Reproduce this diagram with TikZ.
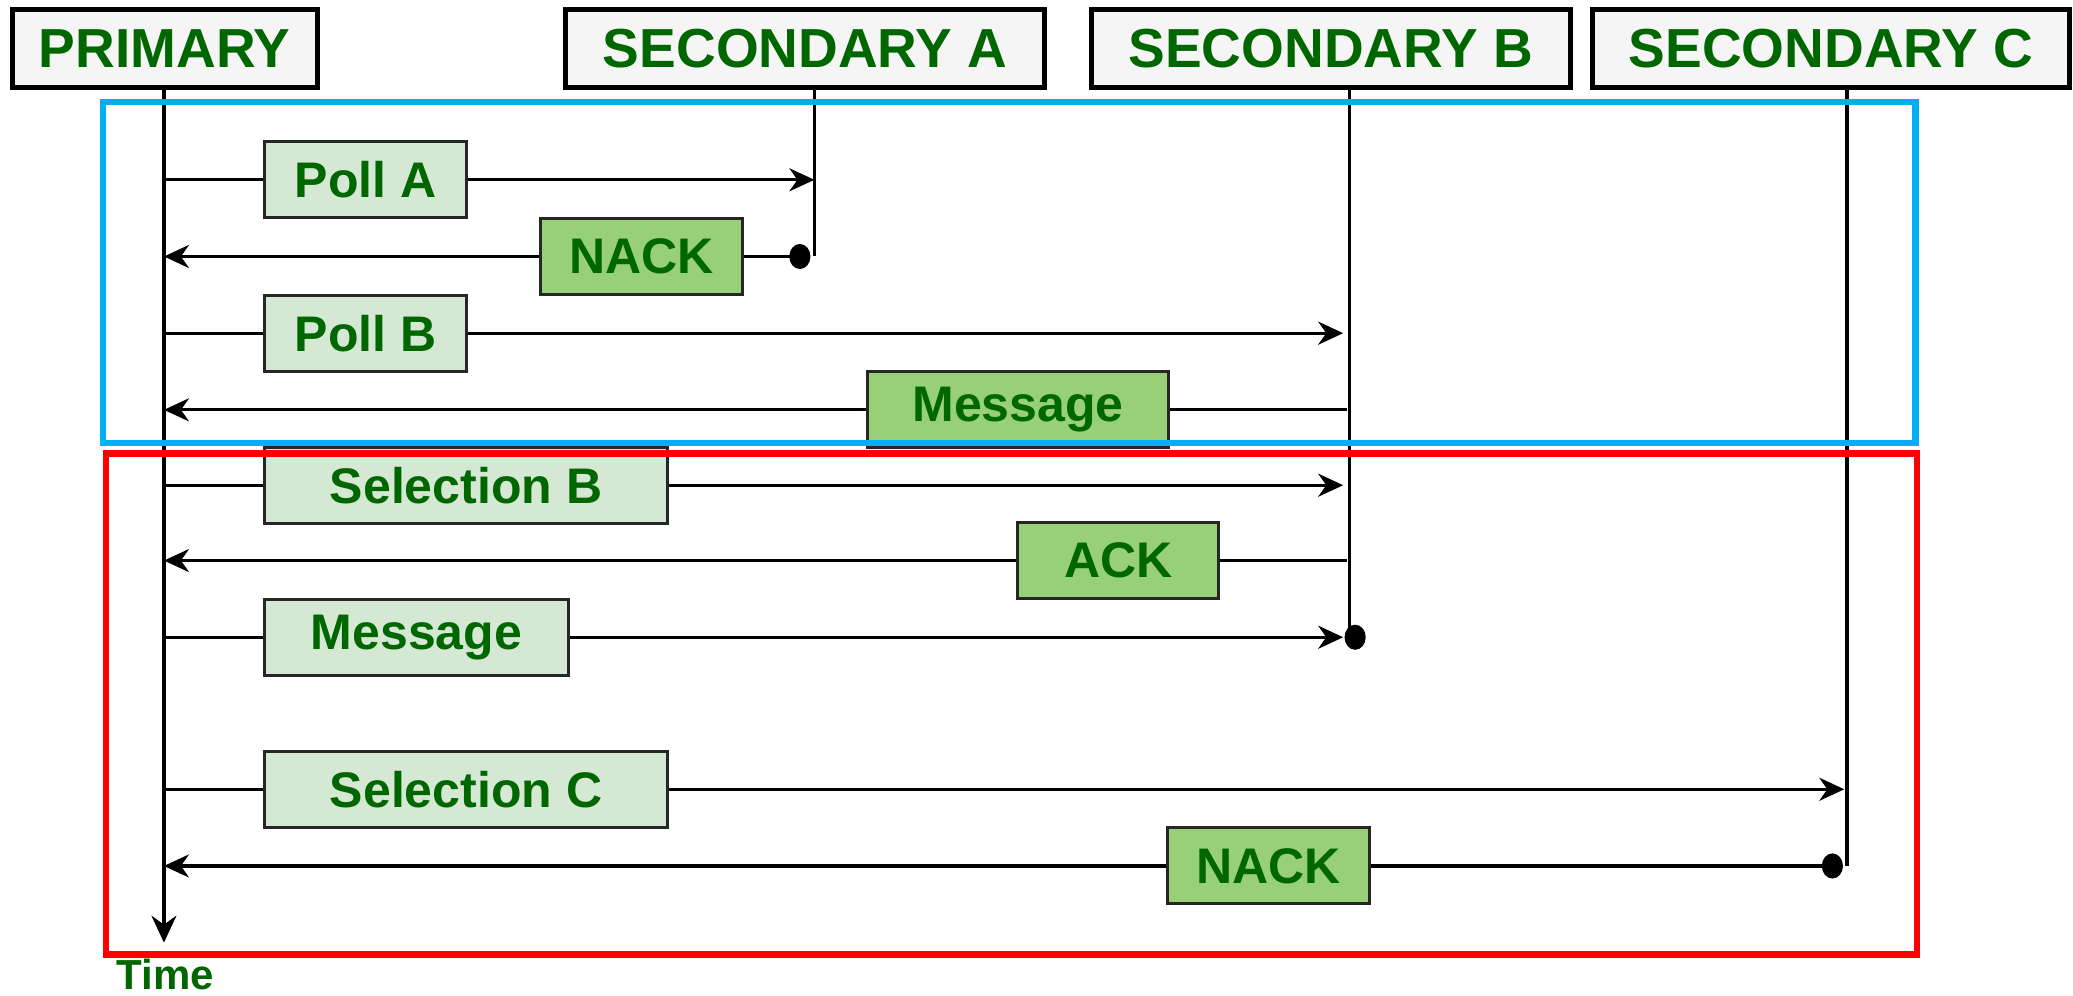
\documentclass[tikz,border=0pt]{standalone}
\usepackage{fontspec}
\setmainfont{Liberation Sans}
\usetikzlibrary{arrows.meta}
\definecolor{txtgreen}{HTML}{006600}
\definecolor{hdrfill}{HTML}{F5F5F5}
\definecolor{lightlab}{HTML}{D5E8D4}
\definecolor{darklab}{HTML}{97D077}
\definecolor{framblue}{HTML}{00B0F0}
\definecolor{framred}{HTML}{FF0000}
\tikzset{
  hdr/.style={draw=black, line width=5pt, fill=hdrfill, minimum height=78pt,
    text=txtgreen, font=\fontsize{55}{62}\selectfont\bfseries, inner sep=0pt},
  lab/.style={draw=black!85, line width=3pt, minimum height=76pt,
    text=txtgreen, font=\fontsize{50}{58}\selectfont\bfseries, inner sep=0pt},
  lablight/.style={lab, fill=lightlab},
  labdark/.style={lab, fill=darklab},
  life/.style={line width=3.2pt, draw=black},
  msg/.style={line width=3.2pt, draw=black},
  arr/.style={msg, -{Stealth[length=25pt, width=23pt, inset=8pt]}},
  dotc/.style={fill=black, draw=none},
  frame/.style={line width=6.5pt}
}
\begin{document}
\begin{tikzpicture}[x=1.3221pt, y=-1.3221pt]
\useasboundingbox (0,0) rectangle (1568,753);
% headers
\node[hdr, minimum width=305pt] (P) at (124.5,36.5) {PRIMARY};
\node[hdr, minimum width=479pt] (A) at (609,36.5) {SECONDARY A};
\node[hdr, minimum width=479pt] (B) at (1006.5,36.5) {SECONDARY B};
\node[hdr, minimum width=477pt] (C) at (1385,36.5) {SECONDARY C};
% lifeline coordinates
\coordinate (Ptop) at (124,66);
\coordinate (Pend) at (124,713);
\coordinate (Atop) at (616,66);
\coordinate (Aend) at (616,194);
\coordinate (Btop) at (1021,66);
\coordinate (Bend) at (1021,482);
\coordinate (Ctop) at (1397,66);
\coordinate (Cend) at (1397,655);
% lifelines
\draw[life, -{Stealth[length=27pt, width=25pt, inset=9pt]}] (Ptop) -- (Pend);
\draw[life] (Atop) -- (Aend);
\draw[life] (Btop) -- (Bend);
\draw[life] (Ctop) -- (Cend);
% primary points
\coordinate (p1) at (124,136);
\coordinate (p2) at (124,194);
\coordinate (p3) at (124,252);
\coordinate (p4) at (124,310);
\coordinate (p5) at (124,367);
\coordinate (p6) at (124,424);
\coordinate (p7) at (124,482);
\coordinate (p8) at (124,597);
\coordinate (p9) at (124,655);
% other points
\coordinate (a1) at (616,136);
\coordinate (a2) at (605,194);
\coordinate (b3) at (1016,252);
\coordinate (b4) at (1019,310);
\coordinate (b5) at (1016,367);
\coordinate (b6) at (1019,424);
\coordinate (b7) at (1016,482);
\coordinate (b7d) at (1025,482);
\coordinate (c8) at (1395,597);
\coordinate (c9) at (1386,655);
% labels
\node[lablight, minimum width=202pt] (pollA) at (276.5,136) {Poll A};
\node[labdark, minimum width=202pt] (nack1) at (485.5,194) {NACK};
\node[lablight, minimum width=202pt] (pollB) at (276.5,252) {Poll B};
\node[labdark, minimum width=301pt] (msg1) at (770,310) {Message};
\node[lablight, minimum width=403pt] (selB) at (352.5,367) {Selection B};
\node[labdark, minimum width=201pt] (ack) at (846,424) {ACK};
\node[lablight, minimum width=304pt] (msg2) at (315,482) {Message};
\node[lablight, minimum width=403pt] (selC) at (352.5,597) {Selection C};
\node[labdark, minimum width=202pt] (nack2) at (959.5,655) {NACK};
% messages
\draw[msg] (p1) -- (pollA.west);
\draw[arr] (pollA.east) -- (a1);
\draw[msg] (a2) -- (nack1.east);
\draw[arr] (nack1.west) -- (p2);
\fill[dotc] (a2) ellipse (8 and 9.5);
\draw[msg] (p3) -- (pollB.west);
\draw[arr] (pollB.east) -- (b3);
\draw[msg] (b4) -- (msg1.east);
\draw[arr] (msg1.west) -- (p4);
\draw[msg] (p5) -- (selB.west);
\draw[arr] (selB.east) -- (b5);
\draw[msg] (b6) -- (ack.east);
\draw[arr] (ack.west) -- (p6);
\draw[msg] (p7) -- (msg2.west);
\draw[arr] (msg2.east) -- (b7);
\fill[dotc] (b7d) ellipse (8 and 9.5);
\draw[msg] (p8) -- (selC.west);
\draw[arr] (selC.east) -- (c8);
\draw[msg] (c9) -- (nack2.east);
\draw[arr] (nack2.west) -- (p9);
\fill[dotc] (c9) ellipse (8 and 9.5);
% frames
\draw[frame, framblue] (78,77) rectangle (1449,335);
\draw[frame, framred] (80,343) rectangle (1450,722);
% time
\node[text=txtgreen, font=\fontsize{42}{48}\selectfont\bfseries, inner sep=0pt] (time) at (125,737) {Time};
\end{tikzpicture}
\end{document}
